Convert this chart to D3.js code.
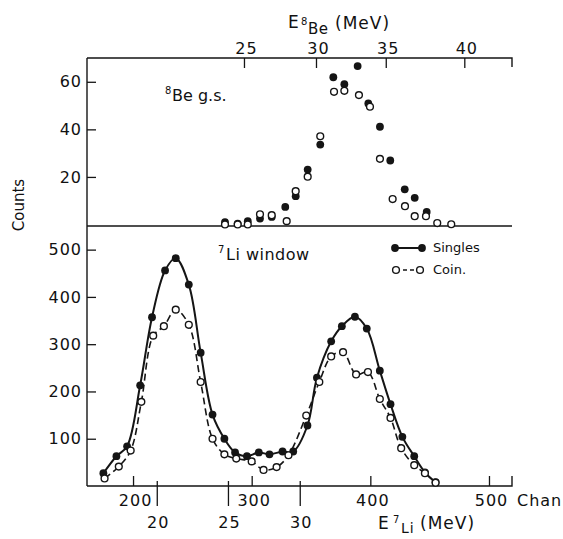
<!DOCTYPE html>
<html>
<head>
<meta charset="utf-8">
<script src="https://cdn.jsdelivr.net/npm/d3@7"></script>
<style>
  body { margin: 0; background: #fff; }
  svg { display: block; }
  text { font-family: "DejaVu Sans", sans-serif; fill: #111; }
</style>
</head>
<body>
<svg id="chart" width="563" height="539"></svg>
<script>
// Lower panel: 7Li window spectra, counts per channel
const singlesChan   = [175,186,195,206,216,227,236,247,257,267,277,286,296,306,315,326,335,347,355,367,376,387,397,408,417,427,437,446,455];
const singlesCounts = [27,63,84,213,357,456,482,426,282,151,100,71,63,71,67,73,73,128,229,306,338,358,333,244,173,104,63,29,8];
const coinChan      = [176,188,198,207,217,226,236,247,257,267,277,287,300,310,321,331,346,357,367,377,388,398,408,417,426,437,446,455];
const coinCounts    = [16,41,75,178,318,338,373,341,220,100,67,58,52,34,40,65,149,220,274,283,236,241,184,144,80,44,27,7];

// Upper panel: 8Be ground state
const beSinglesChan   = [277.5,288.2,296.7,307.0,316.9,328.3,337.1,347.2,357.8,368.8,378.1,389.3,398.3,408.1,416.8,429.0,437.4,447.5];
const beSinglesCounts = [1.0,0.4,1.4,2.5,3.2,7.4,11.9,23.1,33.6,61.9,59.0,66.6,50.9,41.1,26.9,14.8,11.2,5.3];
const beCoinChan      = [277.5,288.2,296.7,307.0,316.9,329.5,337.1,347.2,357.8,369.4,378.1,390.4,399.7,408.1,418.8,429.2,437.4,446.9,456.4,468.2];
const beCoinCounts    = [0,0,0,4.3,3.9,1.4,14.0,20.1,37.1,55.8,56.2,54.4,49.5,27.6,10.7,7.7,3.5,3.5,0.6,0.1];

// Tick values
const chanTicks = [200,300,400,500];
const lowerCountTicks = [100,200,300,400,500];
const upperCountTicks = [20,40,60];

// Energy calibrations: MeV -> channel
const e7LiTicks = [20,25,30];
const e7LiChan  = [220,280,340.5];
const e8BeTicks = [25,30,35,40];
const e8BeChan  = [293.5,354.2,413,479.2];

const svg = d3.select("#chart");
const L = 87, R = 512, T = 58, D = 226, B = 486;
const ink = "#151515";

const x = d3.scaleLinear().domain([161.2, 519.4]).range([L, R]);
const yLow = d3.scaleLinear().domain([0, 550]).range([B, D]);
const yUp = d3.scaleLinear().domain([0, 70]).range([224.5, T]);
const eLi = d3.scaleLinear().domain(e7LiTicks).range(e7LiChan.map(x));
const eBe = d3.scaleLinear().domain(e8BeTicks).range(e8BeChan.map(x));

// Frame
const frame = svg.append("g").attr("stroke", ink).attr("stroke-width", 1.4).attr("fill", "none");
frame.append("path").attr("d", `M${L},${T}V${B}`);
frame.append("path").attr("d", `M${L},${T}H${R}v9`);
frame.append("path").attr("d", `M${L},${D}H${R}`);
frame.append("path").attr("d", `M${L},${B}H${R}v-10`);

function styleAxis(g) {
  g.select(".domain").remove();
  g.selectAll("line").attr("stroke", ink).attr("stroke-width", 1.3);
  g.selectAll("text").attr("font-family", "DejaVu Sans").attr("font-size", 16)
    .attr("letter-spacing", 1).attr("fill", ink);
}

// Count axes
svg.append("g").attr("transform", `translate(${L},0)`)
  .call(d3.axisLeft(yLow).tickValues(lowerCountTicks).tickSizeInner(-9).tickSizeOuter(0).tickPadding(5))
  .call(styleAxis);
svg.append("g").attr("transform", `translate(${L},0)`)
  .call(d3.axisLeft(yUp).tickValues(upperCountTicks).tickSizeInner(-9).tickSizeOuter(0).tickPadding(5))
  .call(styleAxis);

// Channel axis
const chanAxis = svg.append("g").attr("transform", `translate(0,${B})`)
  .call(d3.axisBottom(x).tickValues(chanTicks).tickSizeInner(-10).tickSizeOuter(0))
  .call(styleAxis);
chanAxis.selectAll("text").attr("dy", null).attr("y", 20).attr("x", 2);

// 7Li energy axis
const liAxis = svg.append("g").attr("transform", `translate(0,${B})`)
  .call(d3.axisBottom(eLi).tickValues(e7LiTicks).tickSizeOuter(0))
  .call(styleAxis);
liAxis.selectAll("line").attr("y1", -5).attr("y2", 20);
liAxis.selectAll("text").attr("dy", null).attr("y", 42).attr("x", 1);

// 8Be energy axis
const beAxis = svg.append("g").attr("transform", `translate(0,${T})`)
  .call(d3.axisTop(eBe).tickValues(e8BeTicks).tickSizeInner(-10).tickSizeOuter(0))
  .call(styleAxis);
beAxis.selectAll("text").attr("dy", null).attr("y", -4).attr("x", 2);

// Axis titles
const t = svg.append("g").attr("fill", ink);
t.append("text").attr("x", 517).attr("y", 506).attr("font-size", 16).attr("letter-spacing", 1).text("Chan");
t.append("text").attr("x", 378).attr("y", 529).attr("font-size", 17).text("E");
t.append("text").attr("x", 393).attr("y", 523).attr("font-size", 10).text("7");
t.append("text").attr("x", 401).attr("y", 533).attr("font-size", 14).attr("letter-spacing", 1).text("Li");
t.append("text").attr("x", 420).attr("y", 529).attr("font-size", 17).attr("letter-spacing", 1).text("(MeV)");

t.append("text").attr("x", 288).attr("y", 28).attr("font-size", 17).text("E");
t.append("text").attr("x", 301).attr("y", 25).attr("font-size", 10).text("8");
t.append("text").attr("x", 308).attr("y", 34).attr("font-size", 15).attr("letter-spacing", 0.5).text("Be");
t.append("text").attr("x", 335).attr("y", 29).attr("font-size", 17).attr("letter-spacing", 1).text("(MeV)");

t.append("text").attr("transform", "translate(24,205) rotate(-90)").attr("text-anchor", "middle")
  .attr("font-size", 15).text("Counts");

// Panel labels
t.append("text").attr("x", 165).attr("y", 94).attr("font-size", 10).text("8");
t.append("text").attr("x", 172).attr("y", 101).attr("font-size", 16).text("Be g.s.");
t.append("text").attr("x", 218).attr("y", 253).attr("font-size", 10).text("7");
t.append("text").attr("x", 226).attr("y", 260).attr("font-size", 16).attr("letter-spacing", 0.5).text("Li window");

// Curves through the lower-panel spectra
const zip = (a, b) => a.map((v, i) => [v, b[i]]);
const singles = zip(singlesChan, singlesCounts);
const coin = zip(coinChan, coinCounts);
const beSingles = zip(beSinglesChan, beSinglesCounts);
const beCoin = zip(beCoinChan, beCoinCounts);

const lowLine = d3.line().x(d => x(d[0])).y(d => yLow(d[1])).curve(d3.curveCatmullRom.alpha(0.5));
svg.append("path").datum(singles).attr("d", lowLine)
  .attr("fill", "none").attr("stroke", ink).attr("stroke-width", 2);
svg.append("path").datum(coin).attr("d", lowLine)
  .attr("fill", "none").attr("stroke", ink).attr("stroke-width", 1.6).attr("stroke-dasharray", "7,4");

// Markers
function openDots(data, y) {
  svg.append("g").selectAll("circle").data(data).join("circle")
    .attr("cx", d => x(d[0])).attr("cy", d => y(d[1])).attr("r", 3.4)
    .attr("fill", "#fff").attr("stroke", ink).attr("stroke-width", 1.4);
}
function filledDots(data, y) {
  svg.append("g").selectAll("circle").data(data).join("circle")
    .attr("cx", d => x(d[0])).attr("cy", d => y(d[1])).attr("r", 3.9)
    .attr("fill", ink);
}
filledDots(singles, yLow);
openDots(coin, yLow);
filledDots(beSingles, yUp);
openDots(beCoin, yUp);

// Legend
const lg = svg.append("g");
lg.append("line").attr("x1", 395).attr("x2", 422).attr("y1", 248).attr("y2", 248)
  .attr("stroke", ink).attr("stroke-width", 2);
lg.selectAll("circle.s").data([395, 422]).join("circle").attr("class", "s")
  .attr("cx", d => d).attr("cy", 248).attr("r", 3.9).attr("fill", ink);
lg.append("text").attr("x", 433).attr("y", 252).attr("font-size", 13).text("Singles");
lg.append("line").attr("x1", 396).attr("x2", 420).attr("y1", 270).attr("y2", 270)
  .attr("stroke", ink).attr("stroke-width", 1.4).attr("stroke-dasharray", "4,3");
lg.selectAll("circle.c").data([396, 420]).join("circle").attr("class", "c")
  .attr("cx", d => d).attr("cy", 270).attr("r", 3.4)
  .attr("fill", "#fff").attr("stroke", ink).attr("stroke-width", 1.4);
lg.append("text").attr("x", 433).attr("y", 274).attr("font-size", 13).text("Coin.");
</script>
</body>
</html>
